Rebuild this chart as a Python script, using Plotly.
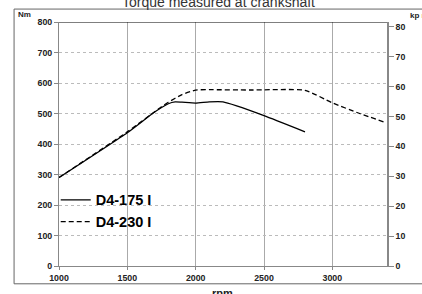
import plotly.graph_objects as go

rpm_175 = [1000, 1500, 1700, 1800, 1850, 1900, 2000, 2100, 2200, 2300, 2500, 2800]
nm_175 = [290, 437, 505, 532, 538, 537, 534, 538, 538, 525, 493, 440]

rpm_230 = [1000, 1500, 1750, 1800, 1900, 2000, 2100, 2400, 2800, 3000, 3200, 3380]
nm_230 = [290, 440, 522, 537, 562, 577, 578, 577, 576, 535, 500, 472]

x_ticks = [1000, 1500, 2000, 2500, 3000]
y_ticks = [0, 100, 200, 300, 400, 500, 600, 700, 800]
y2_ticks = [0, 10, 20, 30, 40, 50, 60, 70, 80]
KPM = 9.80665

tick_font = dict(family="Liberation Sans", size=8.8, color="#222", weight="bold")
fig = go.Figure()
fig.add_trace(go.Scatter(x=rpm_175, y=nm_175, mode="lines", name="D4-175 I",
                         line=dict(color="black", width=1.3, shape="spline", smoothing=0.5)))
fig.add_trace(go.Scatter(x=rpm_230, y=nm_230, mode="lines", name="D4-230 I",
                         line=dict(color="black", width=1.3, dash="5px,3px", shape="spline", smoothing=0.5)))
fig.add_trace(go.Scatter(x=rpm_230, y=[v / KPM for v in nm_230], yaxis="y2", mode="lines",
                         showlegend=False, hoverinfo="skip", opacity=0, line=dict(width=0)))

fig.update_layout(
    width=422, height=294,
    margin=dict(l=59, r=35, t=22, b=28),
    paper_bgcolor="white", plot_bgcolor="white",
    font=dict(family="Liberation Sans", color="#222"),
    xaxis=dict(range=[1000, 3400], tickvals=x_ticks, ticks="outside", ticklen=3,
               tickcolor="#888", showline=True, linecolor="#888", linewidth=1,
               showgrid=True, gridcolor="#aaa", gridwidth=1, zeroline=False,
               tickfont=tick_font, ticklabelstandoff=0),
    yaxis=dict(range=[0, 800], tickvals=y_ticks, ticks="outside", ticklen=4,
               tickcolor="#888", showline=True, linecolor="#888", linewidth=1,
               showgrid=True, gridcolor="#bbb", griddash="dot", gridwidth=1, zeroline=False,
               tickfont=tick_font),
    yaxis2=dict(range=[0, 800 / KPM], tickvals=y2_ticks, overlaying="y", side="right",
                ticks="outside", ticklen=5, tickcolor="#888", showline=True,
                linecolor="#888", linewidth=1.5, showgrid=False, zeroline=False,
                tickfont=tick_font),
    legend=dict(x=-0.01, y=0.226, xanchor="left", yanchor="middle", bgcolor="rgba(0,0,0,0)",
                font=dict(family="Liberation Sans", size=14.5, color="black", weight="bold"),
                tracegroupgap=0, itemwidth=30),
    showlegend=True,
)

fig.add_shape(type="line", xref="paper", yref="y", x0=0, x1=1, y0=800, y1=800,
              line=dict(color="black", width=1.2))
fig.add_shape(type="rect", xref="paper", yref="paper", x0=-0.137, x1=1.3, y0=-0.073, y1=1.053,
              line=dict(color="#666", width=1))

fig.add_annotation(text="Torque measured at crankshaft", xref="paper", yref="paper",
                   x=0.487, y=1.081, xanchor="center", yanchor="middle", showarrow=False,
                   font=dict(family="Liberation Sans", size=14, color="#333"))
fig.add_annotation(text="rpm", xref="paper", yref="paper", x=0.497, y=-0.11,
                   xanchor="center", yanchor="middle", showarrow=False,
                   font=dict(family="Liberation Sans", size=11, color="#222", weight="bold"))
fig.add_annotation(text="Nm", xref="paper", yref="paper", x=-0.13, y=1.03,
                   xanchor="left", yanchor="middle", showarrow=False,
                   font=dict(family="Liberation Sans", size=8, color="#222", weight="bold"))
fig.add_annotation(text="kp m", xref="paper", yref="paper", x=1.063, y=1.025,
                   xanchor="left", yanchor="middle", showarrow=False,
                   font=dict(family="Liberation Sans", size=8, color="#222", weight="bold"))

fig.write_html("out.html", config={"displayModeBar": False},
               post_script="document.body.style.margin='0';")
